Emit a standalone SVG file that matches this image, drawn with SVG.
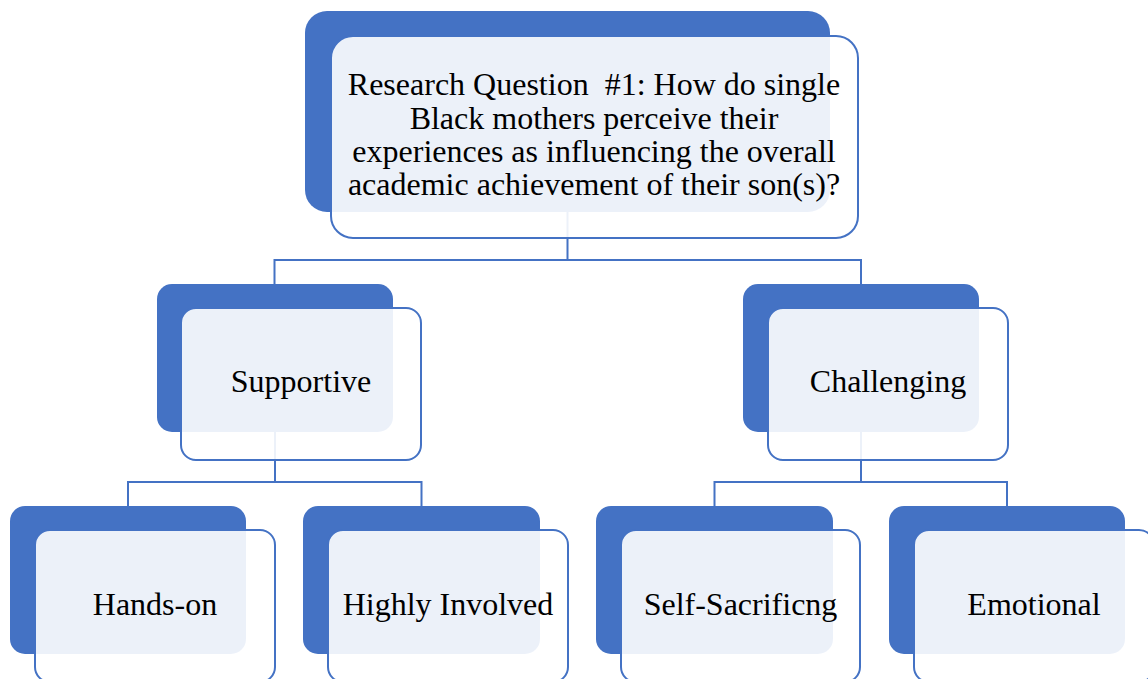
<svg xmlns="http://www.w3.org/2000/svg" width="1148" height="679" viewBox="0 0 1148 679">
<style>
.back{fill:#4472C4;}
.front{fill:#FFFFFF;fill-opacity:0.9;stroke:#4472C4;stroke-width:2;}
.lbl{font-family:"Liberation Serif","Times New Roman",serif;font-size:32px;fill:#000000;text-anchor:middle;white-space:pre;}
.conn{fill:none;stroke:#4472C4;stroke-width:2;}
</style>
<rect width="1148" height="679" fill="#FFFFFF"/>
<g id="connectors">
<path class="conn" d="M567.5,212 V260 M274.5,260 H861 M274.5,259 V284 M861,259 V284"/>
<path class="conn" d="M275,432 V482 M128,482 H421.5 M128,481 V506 M421.5,481 V506"/>
<path class="conn" d="M861,432 V482 M714.5,482 H1007 M714.5,481 V506 M1007,481 V506"/>
</g>
<g id="node-rq1">
<rect class="back" x="305" y="11" width="525" height="201" rx="22"/>
<rect class="front" x="331" y="36" width="527" height="202" rx="22"/>
<text class="lbl"><tspan x="594" y="95">Research Question  #1: How do single</tspan><tspan x="594" y="129">Black mothers perceive their</tspan><tspan x="594" y="162">experiences as influencing the overall</tspan><tspan x="594" y="195">academic achievement of their son(s)?</tspan></text>
</g>
<g id="node-supportive">
<rect class="back" x="157" y="284" width="236" height="148" rx="15"/>
<rect class="front" x="181" y="308" width="240" height="152" rx="15"/>
<text class="lbl" x="301" y="392">Supportive</text>
</g>
<g id="node-challenging">
<rect class="back" x="743" y="284" width="236" height="148" rx="15"/>
<rect class="front" x="768" y="308" width="240" height="152" rx="15"/>
<text class="lbl" x="888" y="392">Challenging</text>
</g>
<g id="node-handson">
<rect class="back" x="10" y="506" width="236" height="148" rx="15"/>
<rect class="front" x="35" y="530" width="240" height="152" rx="15"/>
<text class="lbl" x="155" y="615">Hands-on</text>
</g>
<g id="node-highly">
<rect class="back" x="303" y="506" width="237" height="148" rx="15"/>
<rect class="front" x="328" y="530" width="240" height="152" rx="15"/>
<text class="lbl" x="448" y="615">Highly Involved</text>
</g>
<g id="node-selfsac">
<rect class="back" x="596" y="506" width="237" height="148" rx="15"/>
<rect class="front" x="621" y="530" width="239" height="152" rx="15"/>
<text class="lbl" x="740.5" y="615">Self-Sacrificng</text>
</g>
<g id="node-emotional">
<rect class="back" x="889" y="506" width="236" height="148" rx="15"/>
<rect class="front" x="914" y="530" width="240" height="152" rx="15"/>
<text class="lbl" x="1034" y="615">Emotional</text>
</g>
</svg>
